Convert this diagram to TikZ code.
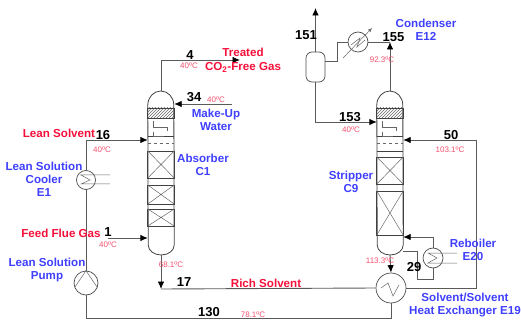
\documentclass[tikz,border=0pt]{standalone}
\usepackage{fontspec}
\setmainfont{Liberation Sans}
\usetikzlibrary{arrows.meta, patterns}
\definecolor{pipegray}{HTML}{5A5A5A}
\definecolor{labelblue}{HTML}{3F3FFF}
\definecolor{labelred}{HTML}{F5103A}
\definecolor{temppink}{HTML}{F4506E}
\tikzset{
    pipe/.style={draw=pipegray, line width=0.9pt},
    flow/.style={pipe, -{Latex[black, length=7.5pt, width=6.5pt]}},
    vessel/.style={draw=black!75, line width=0.8pt},
    thin line/.style={draw=black!60, line width=0.5pt},
    exchanger/.style={circle, draw=black!70, line width=0.7pt, minimum size=#1, inner sep=0pt},
    column/.style={minimum width=26pt, minimum height=164pt, inner sep=0pt},
    unitname/.style={text=labelblue, font=\bfseries\fontsize{11.6}{13}\selectfont, align=center, inner sep=0pt},
    streamname/.style={text=labelred, font=\bfseries\fontsize{11.6}{14}\selectfont, align=center, inner sep=0pt},
    streamno/.style={text=black, font=\bfseries\fontsize{13}{14}\selectfont, inner sep=0pt},
    temp/.style={text=temppink, font=\fontsize{8}{9}\selectfont, inner sep=0pt}
}
\begin{document}
\begin{tikzpicture}[x=1pt, y=-1pt]
    \useasboundingbox (0,0) rectangle (521,320);

    % columns
    \node[column] (c1) at (161,173) {};
    \node[column] (c9) at (390,173) {};
    \foreach \col in {c1,c9} {
        \draw[vessel] (\col.west |- 0,105) arc[start angle=180, end angle=360, x radius=13, y radius=14]
            -- (\col.east |- 0,245) arc[start angle=0, end angle=180, x radius=13, y radius=10] -- cycle;
        \draw[vessel, pattern=north east lines, pattern color=black!60] (\col.west |- 0,108) rectangle (\col.east |- 0,118);
        \draw[vessel] (\col.west |- 0,136) -- (\col.east |- 0,136);
        \draw[thin line, dashed] (\col.west |- 0,143) -- (\col.east |- 0,143);
        \draw[vessel] (\col.west |- 0,151) -- (\col.east |- 0,151);
        \draw[thin line] ([xshift=5pt]\col.west |- 0,121) -- ([xshift=5pt]\col.west |- 0,127) -- ([xshift=19pt]\col.west |- 0,127) -- ([xshift=19pt]\col.west |- 0,131);
        \draw[thin line] ([xshift=5pt]\col.west |- 0,132) -- ([xshift=5pt]\col.west |- 0,136) -- ([xshift=16pt]\col.west |- 0,136);
    }
    \foreach \ya/\yb in {151/178, 185/204, 209/226} {
        \draw[vessel] (c1.west |- 0,\ya) rectangle (c1.east |- 0,\yb);
        \draw[thin line] (c1.west |- 0,\ya) -- (c1.east |- 0,\yb) (c1.east |- 0,\ya) -- (c1.west |- 0,\yb);
    }
    \foreach \ya/\yb in {157/184, 191/235} {
        \draw[vessel] (c9.west |- 0,\ya) rectangle (c9.east |- 0,\yb);
        \draw[thin line] (c9.west |- 0,\ya) -- (c9.east |- 0,\yb) (c9.east |- 0,\ya) -- (c9.west |- 0,\yb);
    }

    % equipment
    \node[exchanger=19pt] (e1) at (86,180) {};
    \node[exchanger=24pt] (p1) at (86,283) {};
    \node[exchanger=30pt] (e19) at (391,288) {};
    \node[exchanger=20pt] (e20) at (433,258) {};
    \node[exchanger=20pt] (e12) at (358,42) {};
    \node[draw=black!70, line width=0.7pt, rounded corners=6pt, minimum width=19pt, minimum height=30pt, inner sep=0pt] (v1) at (315.5,67) {};

    \draw[thin line] (110,175) -- (81,175) -- (90,180) -- (81,184) -- (110,184);
    \draw[thin line] (457,253) -- (428,253) -- (437,258) -- (428,263) -- (457,263);
    \draw[thin line] (75,287) -- (p1.north) -- (97,287);
    \draw[thin line] (381,288) -- (388,283) -- (393,296) -- (399,285);
    \draw[thin line] (351,45) -- (360,38) -- (357,47) -- (365,40);
    \draw[thin line, -{Latex[length=4pt, width=3.5pt]}] (343,58) -- (372,28);

    % free ends and side nozzles
    \coordinate (gasout) at (240,60);
    \coordinate (waterin) at (232,104);
    \coordinate (feedin) at (108,238);
    \coordinate (ventout) at (315.5,8);

    % pipes
    \draw[flow] (c1.north) |- (gasout);
    \draw[flow] (waterin) -- (c1.east |- waterin);
    \draw[flow] (e1.north) |- (c1.west |- 0,140);
    \draw[flow] (feedin) -- (c1.west |- feedin);
    \draw[pipe] (p1.north) -- (e1.south);
    \draw[pipe] (p1.south) |- (0,318 -| e19.south) -- (e19.south);
    \draw[flow] (c1.south) -- (c1.south |- 0,289);
    \draw[pipe] (c1.south |- 0,289) -- (e19.west);
    \draw[flow] (e19.east) -| (476,140) -- (c9.east |- 0,140);
    \draw[flow] (c9.south) -- (e19.north);
    \draw[flow] (e20.north) |- (c9.east |- 0,237);
    \draw[pipe] (c9.east |- 0,251) -| (417,279) -| (e20.south);
    \draw[flow] (c9.north) -- (c9.north |- e12.east);
    \draw[pipe] (c9.north |- e12.east) -- (e12.east);
    \draw[pipe] (v1.east |- 0,61) -| (337,42) -- (e12.west);
    \draw[flow] (v1.north) -- (ventout);
    \draw[flow] (v1.south) |- (c9.west |- 0,122);

    % unit labels
    \node[unitname] (lbcooler) at (44,179) {Lean Solution\\Cooler\\E1};
    \node[unitname] (lbpump) at (47,269.5) {Lean Solution\\Pump};
    \node[unitname] (lbabs) at (203,165) {Absorber\\C1};
    \node[unitname] (lbwater) at (216,120) {Make-Up\\Water};
    \node[unitname] (lbstrip) at (351,182) {Stripper\\C9};
    \node[unitname] (lbcond) at (426,30) {Condenser\\E12};
    \node[unitname] (lbreb) at (473,250) {Reboiler\\E20};
    \node[unitname] (lbhx) at (465,305) {Solvent/Solvent\\Heat Exchanger E19};

    % stream labels
    \node[streamname] (lbtreated) at (243,60) {Treated\\CO\textsubscript{2}-Free Gas};
    \node[streamname] (lblean) at (59,133) {Lean Solvent};
    \node[streamname] (lbfeed) at (61,233) {Feed Flue Gas};
    \node[streamname] (lbrich) at (266,283) {Rich Solvent};

    % stream numbers
    \foreach \nm/\px/\py/\txt in {n4/190/55/4, n34/194/97/34, n16/103/135/16, n1/108/232/1, n17/184/282/17,
        n130/209/312/130, n151/306/35/151, n155/393.5/37/155, n153/350/117/153, n50/451/135/50, n29/414/267/29}
        \node[streamno] (\nm) at (\px,\py) {\txt};

    % temperatures
    \foreach \nm/\px/\py/\txt in {t4/189/66/40, t34/216/100/40, t16/102/150/40, t1/108/245/40, t17/171/265/68.1,
        t130/253/315/78.1, t155/382/60/92.3, t153/351/130/40, t50/450/150/103.1, t29/380/261/113.3}
        \node[temp] (\nm) at (\px,\py) {\txt ºC};
\end{tikzpicture}
\end{document}
